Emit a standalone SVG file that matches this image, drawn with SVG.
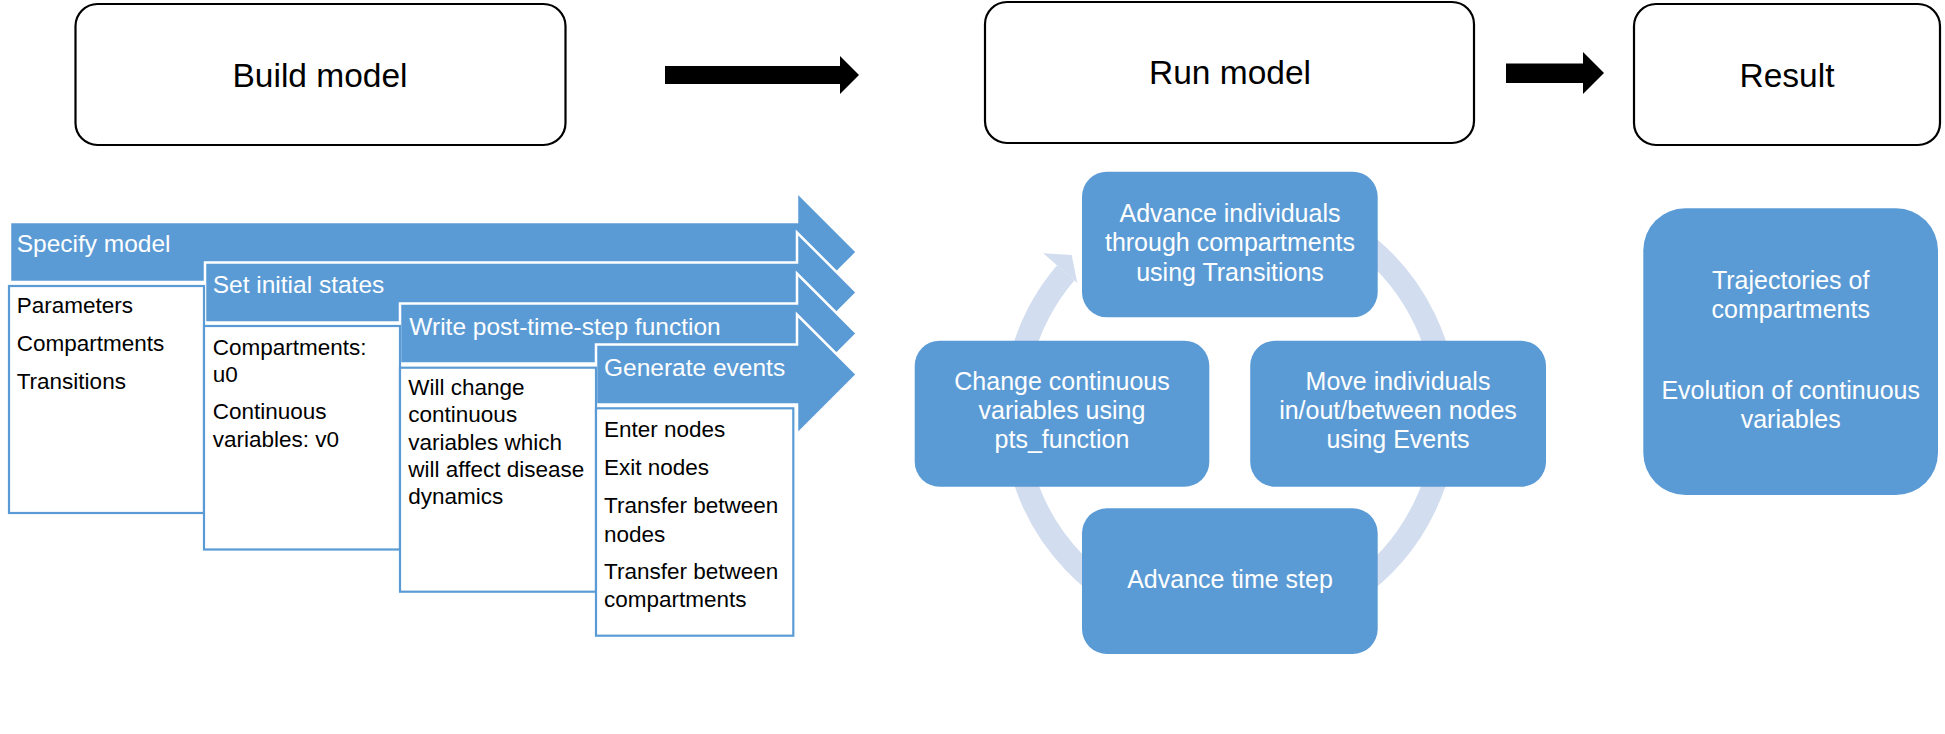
<svg xmlns="http://www.w3.org/2000/svg" width="1945" height="734" viewBox="0 0 1945 734">
<style>
  .stage { fill: #ffffff; stroke: #000000; stroke-width: 2.2; }
  .stage-t { font-family: "Liberation Sans", Arial, sans-serif; font-size: 33.5px; fill: #000000; text-anchor: middle; }
  .block { fill: #000000; }
  .chev { fill: #5B9BD5; stroke: #ffffff; stroke-width: 2.5; stroke-linejoin: miter; }
  .hdr { font-family: "Liberation Sans", Arial, sans-serif; font-size: 24.5px; fill: #ffffff; }
  .body { fill: #ffffff; stroke: #5B9BD5; stroke-width: 2.2; }
  .bt { font-family: "Liberation Sans", Arial, sans-serif; font-size: 22.5px; fill: #000000; }
  .cyc { fill: #5B9BD5; }
  .ct { font-family: "Liberation Sans", Arial, sans-serif; font-size: 25px; fill: #ffffff; text-anchor: middle; }
  .ring { fill: none; stroke: #D2DDEF; stroke-width: 23; }
  .ringhead { fill: #D2DDEF; }
</style>
<rect width="1945" height="734" fill="#ffffff"/>

<g id="connectors">
  <polygon class="block" points="665,66 840,66 840,56 859,75 840,94 840,84 665,84"/>
  <polygon class="block" points="1506,63.5 1583,63.5 1583,52 1604,73 1583,94 1583,83 1506,83"/>
  <path class="ring" d="M 1156.1 210 A 216 216 0 1 1 1065.8 272.7"/>
  <polygon class="ringhead" points="1043.3,253.3 1071.7,255 1077.3,283.3 1074.5,280.2 1057,265.3"/>
</g>

<g id="build-model">
  <rect class="stage" x="75.5" y="4" width="490" height="141" rx="22"/>
  <text class="stage-t" x="320" y="87">Build model</text>
</g>
<g id="run-model">
  <rect class="stage" x="985" y="2" width="489" height="141" rx="22"/>
  <text class="stage-t" x="1230" y="84">Run model</text>
</g>
<g id="result">
  <rect class="stage" x="1634" y="4" width="306" height="141" rx="22"/>
  <text class="stage-t" x="1787" y="87">Result</text>
</g>

<g id="specify-model">
  <polygon class="chev" points="10,222 797,222 797,192 857,252 797,312 797,282 10,282"/>
</g>
<g id="set-initial-states">
  <polygon class="chev" points="205,262.5 797,262.5 797,232.5 857,292.5 797,352.5 797,322.5 205,322.5"/>
</g>
<g id="write-pts">
  <polygon class="chev" points="400,303.5 797,303.5 797,273.5 857,333.5 797,393.5 797,363.5 400,363.5"/>
</g>
<g id="generate-events">
  <polygon class="chev" points="596,344.5 797,344.5 797,314.5 857,374.5 797,434.5 797,404.5 596,404.5"/>
</g>
<g id="headers">
  <text class="hdr" x="16.7" y="252">Specify model</text>
  <text class="hdr" x="212.7" y="293.3">Set initial states</text>
  <text class="hdr" x="409.3" y="335">Write post-time-step function</text>
  <text class="hdr" x="604" y="376">Generate events</text>
</g>

<g id="specify-model-body">
  <rect class="body" x="9" y="286" width="195" height="227"/>
  <text class="bt" x="16.7" y="313.3">Parameters</text>
  <text class="bt" x="16.7" y="351">Compartments</text>
  <text class="bt" x="16.7" y="389">Transitions</text>
</g>
<g id="set-initial-states-body">
  <rect class="body" x="204" y="326" width="196" height="223.5"/>
  <text class="bt" x="212.7" y="355">Compartments:</text>
  <text class="bt" x="212.7" y="381.5">u0</text>
  <text class="bt" x="212.7" y="419.3">Continuous</text>
  <text class="bt" x="212.7" y="446.7">variables: v0</text>
</g>
<g id="write-pts-body">
  <rect class="body" x="400" y="367.7" width="196" height="224"/>
  <text class="bt" x="408.3" y="395">Will change</text>
  <text class="bt" x="408.3" y="422.3">continuous</text>
  <text class="bt" x="408.3" y="450">variables which</text>
  <text class="bt" x="408.3" y="476.7">will affect disease</text>
  <text class="bt" x="408.3" y="504.3">dynamics</text>
</g>
<g id="generate-events-body">
  <rect class="body" x="596" y="408.3" width="197.3" height="227.4"/>
  <text class="bt" x="604" y="437.3">Enter nodes</text>
  <text class="bt" x="604" y="475">Exit nodes</text>
  <text class="bt" x="604" y="513.3">Transfer between</text>
  <text class="bt" x="604" y="541.7">nodes</text>
  <text class="bt" x="604" y="579">Transfer between</text>
  <text class="bt" x="604" y="606.7">compartments</text>
</g>

<g id="advance-individuals">
  <rect class="cyc" x="1082" y="171.7" width="295.7" height="145.6" rx="25"/>
  <text class="ct" x="1230" y="221.7">Advance individuals</text>
  <text class="ct" x="1230" y="251">through compartments</text>
  <text class="ct" x="1230" y="281">using Transitions</text>
</g>
<g id="move-individuals">
  <rect class="cyc" x="1250.2" y="340.7" width="295.8" height="146" rx="25"/>
  <text class="ct" x="1398" y="390">Move individuals</text>
  <text class="ct" x="1398" y="419.3">in/out/between nodes</text>
  <text class="ct" x="1398" y="448.3">using Events</text>
</g>
<g id="advance-time-step">
  <rect class="cyc" x="1082" y="508.3" width="295.7" height="145.7" rx="25"/>
  <text class="ct" x="1230" y="587.7">Advance time step</text>
</g>
<g id="change-continuous">
  <rect class="cyc" x="914.7" y="340.7" width="294.6" height="146" rx="25"/>
  <text class="ct" x="1062" y="390">Change continuous</text>
  <text class="ct" x="1062" y="419.3">variables using</text>
  <text class="ct" x="1062" y="448.3">pts_function</text>
</g>

<g id="result-content">
  <rect class="cyc" x="1643.3" y="208.3" width="294.7" height="286.7" rx="42"/>
  <text class="ct" x="1790.7" y="289">Trajectories of</text>
  <text class="ct" x="1790.7" y="317.7">compartments</text>
  <text class="ct" x="1790.7" y="399.3">Evolution of continuous</text>
  <text class="ct" x="1790.7" y="427.7">variables</text>
</g>
</svg>
